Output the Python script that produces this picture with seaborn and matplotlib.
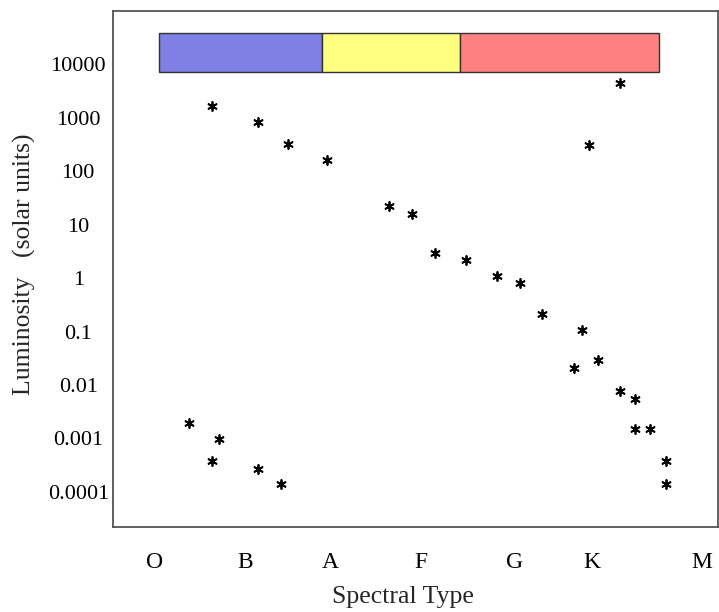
import numpy as np
import pandas as pd
import matplotlib
matplotlib.use("Agg")
import matplotlib.pyplot as plt
import seaborn as sns

# ---- data ----
spectral_types = ["O", "B", "A", "F", "G", "K", "M"]
spectral_pos = [6.9, 21.8, 35.9, 50.9, 66.4, 79.2, 97.4]

star_x = [16.4, 24.0, 28.9, 35.4, 45.6, 49.4, 53.2, 58.3, 63.5, 67.3, 70.9,
          77.5, 80.2, 76.2, 83.8, 86.3, 86.3, 88.8, 91.4, 91.4,
          12.6, 17.5, 16.4, 24.0, 27.8,
          83.8, 78.7]
star_lum = [1700, 850, 320, 160, 22, 16, 3.0, 2.2, 1.1, 0.81, 0.21,
            0.105, 0.029, 0.021, 0.0078, 0.0054, 0.0015, 0.0015, 0.00037, 0.000138,
            0.00195, 0.00098, 0.00037, 0.00027, 0.000138,
            4570, 316]

band_left = [7.65, 34.5, 57.3]
band_right = [34.5, 57.3, 90.3]
band_colors = ["#7f7fe6", "#ffff80", "#ff8080"]
band_low, band_high = 7300, 39300

y_ticks = [1e4, 1e3, 1e2, 1e1, 1, 0.1, 0.01, 0.001, 0.0001]
y_ticklabels = ["10000", "1000", "100", "10", "1", "0.1", "0.01", "0.001", "0.0001"]

df = pd.DataFrame({"x": star_x, "lum": star_lum})

# ---- plot ----
sns.set_style("white")
plt.rcParams["font.family"] = ["Liberation Serif", "DejaVu Serif"]

fig = plt.figure(figsize=(7.19, 6.12), dpi=100)
ax = fig.add_axes([113 / 719, (612 - 526.5) / 612, 605 / 719, (526.5 - 11) / 612])

ax.set_yscale("log")
ax.set_xlim(0, 100)
ax.set_ylim(10 ** -4.65, 10 ** 5.0)

for l, r, c in zip(band_left, band_right, band_colors):
    ax.bar(l, band_high - band_low, width=r - l, bottom=band_low, align="edge",
           color=c, edgecolor="#333333", linewidth=1.0, zorder=2)

sns.scatterplot(data=df, x="x", y="lum", ax=ax, marker=(6, 2, 0), s=42,
                color="black", linewidth=1.3, edgecolor="black", zorder=3,
                legend=False)

ax.set_yticks(y_ticks)
ax.set_yticklabels(y_ticklabels)
ax.yaxis.set_minor_locator(matplotlib.ticker.NullLocator())
ax.set_xticks(spectral_pos)
ax.set_xticklabels(spectral_types)
ax.tick_params(axis="y", length=0, labelsize=16, colors="black", pad=25)
ax.tick_params(axis="x", length=0, labelsize=17, colors="black", pad=18)
for t in ax.get_yticklabels():
    t.set_horizontalalignment("center")

ax.set_xlabel("Spectral Type", fontsize=18.5)
ax.xaxis.set_label_coords((403 - 113) / 605, (526.5 - 586) / 515.5)
ax.set_ylabel("Luminosity   (solar units)", fontsize=18.5)
ax.yaxis.set_label_coords(-0.127, (526.5 - 264) / 515.5)

for s in ax.spines.values():
    s.set_color("#555555")
    s.set_linewidth(1.3)

fig.savefig("out.png", dpi=100)
